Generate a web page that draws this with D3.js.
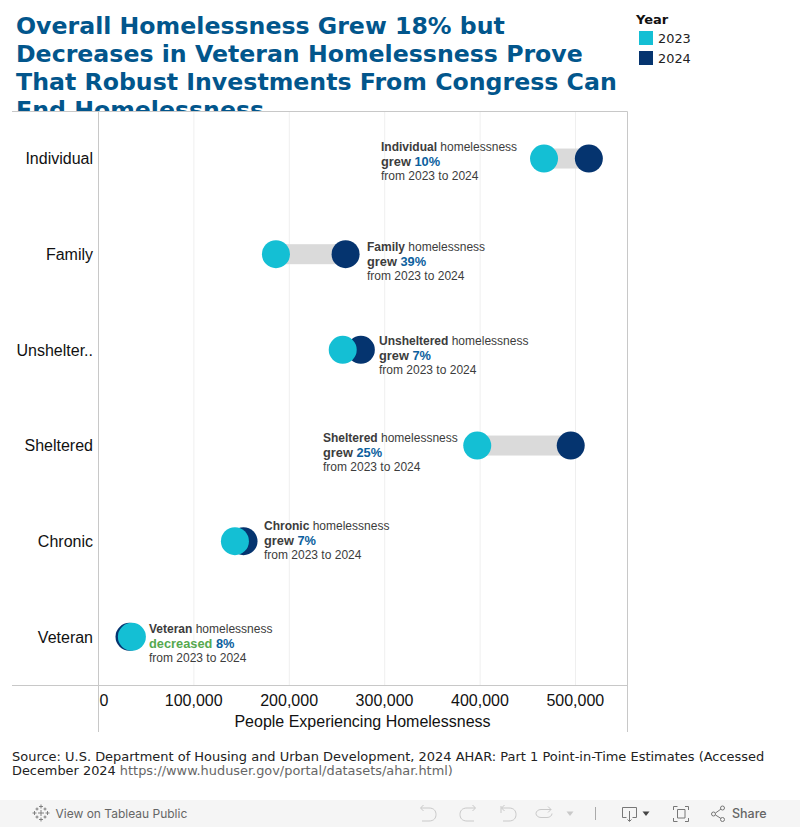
<!DOCTYPE html>
<html><head><meta charset="utf-8">
<script src="https://cdn.jsdelivr.net/npm/d3@7/dist/d3.min.js"></script>
<style>html,body{margin:0;padding:0;background:#fff;overflow:hidden}svg{display:block}</style>
</head><body><svg id="c" width="800" height="827"></svg>
<script>
const categories = ["Individual","Family","Unshelter..","Sheltered","Chronic","Veteran"];
const fullNames = ["Individual","Family","Unsheltered","Sheltered","Chronic","Veteran"];
const values2023 = [467000,186000,256000,397000,143000,35000];
const values2024 = [514000,259000,275000,495000,152000,32500];
const changeWords = ["grew","grew","grew","grew","grew","decreased"];
const changePcts = ["10%","39%","7%","25%","7%","8%"];
const xTicks = [0,100000,200000,300000,400000,500000];
const titleLines = ["Overall Homelessness Grew 18% but","Decreases in Veteran Homelessness Prove","That Robust Investments From Congress Can","End Homelessness"];
const years = ["2023","2024"];

const labelStartX = [381,367,379,323,264,149];
const labelShiftY = [0,4.6,3,4,-3.4,4];
const C23="#14bfd4", C24="#05346f", TITLE="#02568c";
const svg=d3.select("#c");
const AX="Liberation Sans, Arial, sans-serif", DV="DejaVu Sans, sans-serif";
const L=98.5,R=627.5,T=111.5,B=685.5;
const x=d3.scaleLinear().domain([0,554500]).range([L,R]);
const y=d3.scaleBand().domain(categories).range([T,B]);

// title, clipped by the plot top
svg.append("clipPath").attr("id","tc").append("rect").attr("x",0).attr("y",0).attr("width",632).attr("height",111);
const tg=svg.append("g").attr("clip-path","url(#tc)");
tg.selectAll("text").data(titleLines).join("text")
 .attr("x",16).attr("y",(d,i)=>34+i*28)
 .attr("font-family",DV).attr("font-weight",700).attr("font-size",23.65).attr("fill",TITLE).text(d=>d);

// legend
svg.append("text").attr("x",636).attr("y",24).attr("font-family",DV).attr("font-weight",700).attr("font-size",13).attr("fill","#111").text("Year");
const lg=svg.selectAll(".lg").data(years).join("g");
lg.append("rect").attr("x",639).attr("y",(d,i)=>31+i*20).attr("width",14).attr("height",14).attr("fill",(d,i)=>i?C24:C23);
lg.append("text").attr("x",658).attr("y",(d,i)=>43+i*20).attr("font-family",DV).attr("font-size",12.9).attr("fill","#222").text(d=>d);

// grid and frame
svg.selectAll(".g").data(xTicks.slice(1)).join("line").attr("x1",d=>x(d)).attr("x2",d=>x(d)).attr("y1",T).attr("y2",B).attr("stroke","#efefef");
const fr="#c8c8c8";
svg.append("line").attr("x1",12).attr("x2",R).attr("y1",T).attr("y2",T).attr("stroke",fr);
svg.append("line").attr("x1",12).attr("x2",R).attr("y1",B).attr("y2",B).attr("stroke",fr);
svg.append("line").attr("x1",L).attr("x2",L).attr("y1",T).attr("y2",732).attr("stroke",fr);
svg.append("line").attr("x1",R).attr("x2",R).attr("y1",T).attr("y2",732).attr("stroke",fr);

// axes
const xa=svg.append("g").attr("transform",`translate(0,${B})`).call(d3.axisBottom(x).tickValues(xTicks).tickFormat(d3.format(",")).tickSize(0));
xa.select(".domain").remove();
xa.selectAll("text").attr("font-family",AX).attr("font-size",16).attr("fill","#111").attr("y",9)
 .attr("dx",d=>d===0?5:-0.7);
svg.append("text").attr("x",362.5).attr("y",727).attr("text-anchor","middle").attr("font-family",AX).attr("font-size",16).attr("fill","#111").text("People Experiencing Homelessness");
const ya=svg.append("g").attr("transform",`translate(${L},0)`).call(d3.axisLeft(y).tickSize(0));
ya.select(".domain").remove();
ya.selectAll("text").attr("font-family",AX).attr("font-size",16).attr("fill","#111").attr("x",-5.5);

// marks
const cy=d=>y(d)+y.bandwidth()/2-0.8;
svg.selectAll(".bar").data(categories).join("rect")
 .attr("x",(d,i)=>x(Math.min(values2023[i],values2024[i]))).attr("y",d=>cy(d)-10)
 .attr("width",(d,i)=>Math.abs(x(values2024[i])-x(values2023[i]))).attr("height",20).attr("fill","#dadada");
svg.selectAll(".c24").data(categories).join("circle").attr("cx",(d,i)=>x(values2024[i])).attr("cy",cy).attr("r",14).attr("fill",C24);
svg.selectAll(".c23").data(categories).join("circle").attr("cx",(d,i)=>x(values2023[i])).attr("cy",cy).attr("r",14).attr("fill",C23);

// annotations
categories.forEach((c,i)=>{
 const g=svg.append("g").attr("font-family",AX).attr("font-size",12).attr("fill","#3c3c3c");
 const yc=cy(c)+labelShiftY[i], lx=labelStartX[i];
 const t1=g.append("text").attr("x",lx).attr("y",yc-8);
 t1.append("tspan").attr("font-weight",700).text(fullNames[i]);
 t1.append("tspan").text(" homelessness");
 const t2=g.append("text").attr("x",lx).attr("y",yc+7).attr("font-weight",700).attr("font-size",12.8);
 t2.append("tspan").attr("fill",changeWords[i]==="decreased"?"#55a84f":"#3c3c3c").text(changeWords[i]+" ");
 t2.append("tspan").attr("fill","#0c5f9e").text(changePcts[i]);
 g.append("text").attr("x",lx).attr("y",yc+21).text("from 2023 to 2024");
});

// source
const s=svg.append("g").attr("font-family",DV).attr("font-size",13);
s.append("text").attr("x",12).attr("y",761).attr("fill","#222").attr("font-size",12.98).text("Source: U.S. Department of Housing and Urban Development, 2024 AHAR: Part 1 Point-in-Time Estimates (Accessed");
const s2=s.append("text").attr("x",12).attr("y",775).attr("fill","#222").attr("font-size",12.9);
s2.append("tspan").text("December 2024 ");
s2.append("tspan").attr("fill","#666").text("https://www.huduser.gov/portal/datasets/ahar.html)");

// toolbar
svg.append("rect").attr("x",0).attr("y",800).attr("width",800).attr("height",27).attr("fill","#f5f5f5");
const tb=svg.append("g").attr("font-family","Inter, sans-serif").attr("font-size",12).attr("fill","#666");
tb.append("text").attr("x",55.5).attr("y",818).text("View on Tableau Public");
tb.append("text").attr("x",732).attr("y",818).attr("font-size",12.5).attr("font-weight",500).text("Share");
const ic=svg.append("g").attr("fill","none").attr("stroke","#777").attr("stroke-width",1);
// tableau mark
ic.append("g").attr("stroke-width",0.9).selectAll("path").data([[41,813,3],[41,806.500,2],[41,819.500,2],[34.500,813,2],[47.500,813,2],[37,809,1.500],[45,809,1.500],[37,817,1.500],[45,817,1.500]])
 .join("path").attr("d",d=>`M${d[0]-d[2]} ${d[1]}h${2*d[2]}M${d[0]} ${d[1]-d[2]}v${2*d[2]}`);
ic.append("g").attr("stroke","#c9c9c9").selectAll("path").data([
 "M421 808h8c5 0 7 3 7 6.500s-2 6.500-7 6.500h-7M423.500 805l-3 3 3 3",
 "M475 808h-8c-5 0-7 3-7 6.500s2 6.500 7 6.500h7M472.500 805l3 3-3 3",
 "M501 806v7M502 808h7c5 0 7 3 7 6.500s-2 6.500-7 6.500h-6M504.500 805l-3 3 3 3",
 "M551 809.500h-10c-3 0-5 2-5 4s2 4 5 4h6c3 0 5-2 5-4M548 806.500l3 3-3 3"
]).join("path").attr("d",d=>d);
svg.append("path").attr("d","M566.500 811.500h7l-3.500 4.500z").attr("fill","#c9c9c9");
svg.append("line").attr("x1",595.500).attr("x2",595.500).attr("y1",807).attr("y2",820).attr("stroke","#aaa");
ic.append("path").attr("d","M622.500 807.500h14v10h-4M622.500 807.500v10h4M629.500 811v10M627.500 819.500l2 2 2-2");
svg.append("path").attr("d","M642.500 811.500h7l-3.500 4.500z").attr("fill","#444");
ic.append("path").attr("d","M673.500 810v-3.500h4M685 806.500h3.500v3.500M688.500 818v3.500h-3.500M677.500 821.500h-4v-3.500M677.500 809.500h7.500v8.500h-7.500z");
ic.append("path").attr("d","M715.500 813l5.500-4M715.500 815l5.500 3.500");
ic.selectAll(".sh").data([[713.500,814],[722.500,808],[722.500,819.500]]).join("circle").attr("cx",d=>d[0]).attr("cy",d=>d[1]).attr("r",2);
</script></body></html>
